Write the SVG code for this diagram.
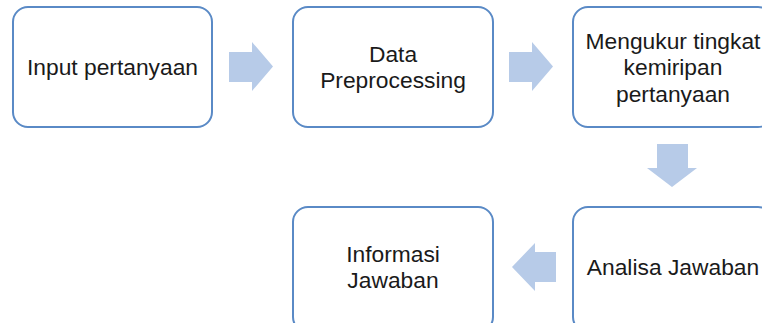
<svg xmlns="http://www.w3.org/2000/svg" width="762" height="323" viewBox="0 0 762 323">
<style>
.box{fill:#ffffff;stroke:#5a8ac6;stroke-width:2}
.arr{fill:#b7cbe8;stroke:none}
text{font-family:"Liberation Sans",Arial,sans-serif;font-size:22.8px;fill:#1a1a1a;text-anchor:middle}
</style>
<rect width="762" height="323" fill="#ffffff"/>
<g id="connectors">
<polygon class="arr" points="229,52 252,52 252,42 273,66.5 252,91 252,82 229,82"/>
<polygon class="arr" points="509,52 532,52 532,42 553,66.5 532,91 532,82 509,82"/>
<polygon class="arr" points="657,144 688,144 688,168 697,168 672,187 647,168 657,168"/>
<polygon class="arr" points="556,252 535,252 535,243 512,267 535,291 535,282 556,282"/>
</g>
<g id="node-input">
<rect class="box" x="13" y="7" width="199" height="120" rx="15"/>
<text x="112.5" y="75">Input pertanyaan</text>
</g>
<g id="node-preprocessing">
<rect class="box" x="293" y="7" width="200" height="120" rx="15"/>
<text x="393" y="61.5">Data</text>
<text x="393" y="88">Preprocessing</text>
</g>
<g id="node-mengukur">
<rect class="box" x="573" y="7" width="200" height="120" rx="15"/>
<text x="673" y="48.5">Mengukur tingkat</text>
<text x="673" y="75">kemiripan</text>
<text x="673" y="101.5">pertanyaan</text>
</g>
<g id="node-analisa">
<rect class="box" x="573" y="207" width="200" height="125" rx="15"/>
<text x="673" y="275">Analisa Jawaban</text>
</g>
<g id="node-informasi">
<rect class="box" x="293" y="207" width="200" height="125" rx="15"/>
<text x="393" y="261.5">Informasi</text>
<text x="393" y="288">Jawaban</text>
</g>
</svg>
